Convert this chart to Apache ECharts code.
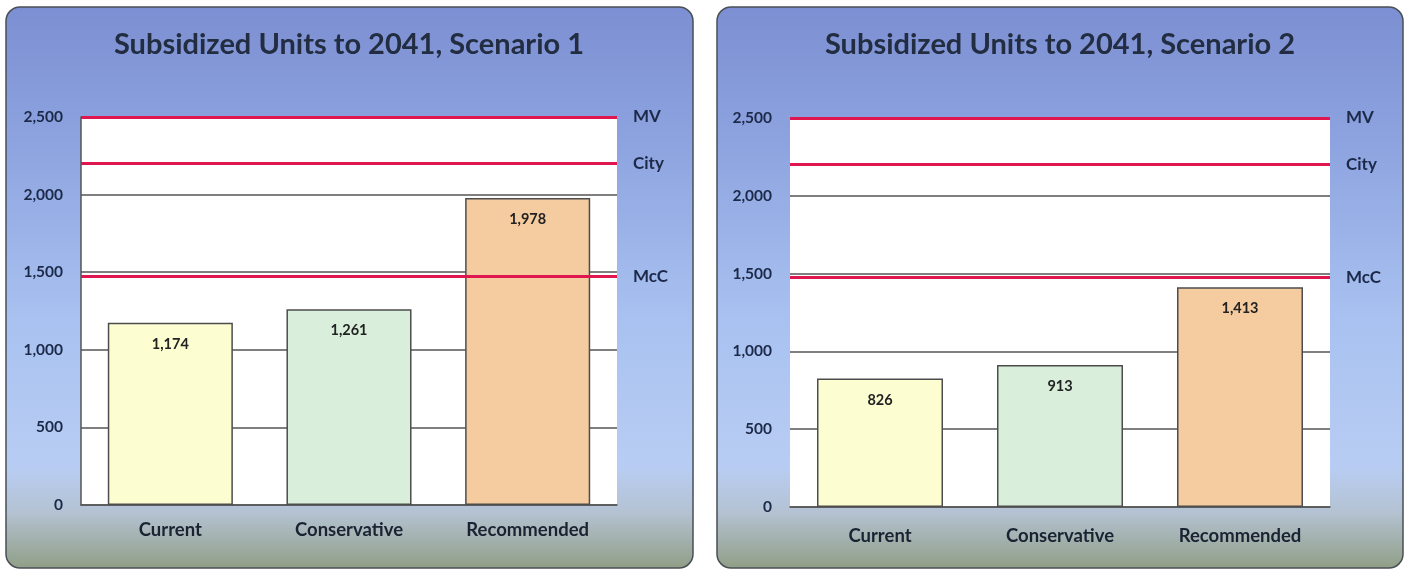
<!DOCTYPE html>
<html>
<head>
<meta charset="utf-8">
<script src="https://cdn.jsdelivr.net/npm/echarts@6/dist/echarts.min.js"></script>
<style>
  html, body { margin: 0; padding: 0; background: #fff; }
  #chart { width: 1408px; height: 571px; }
</style>
</head>
<body>
<div id="chart"></div>
<script>
// two panels, same categories
let categories = ["Current", "Conservative", "Recommended"];
let scenario1 = [1174, 1261, 1978];
let scenario2 = [826, 913, 1413];
let targetNames = ["MV", "City", "McC"];
let targetValues = [2500, 2200, 1475];
let barColors = ["#fdfdd2", "#d9efdc", "#f5cba0"];
let titles = ["Subsidized Units to 2041, Scenario 1", "Subsidized Units to 2041, Scenario 2"];

let font = "Lato, 'Open Sans', sans-serif";
let navy = "#1c2948";

let myChart = echarts.init(document.getElementById("chart"));

let panelFill = new echarts.graphic.LinearGradient(0, 0, 0, 1, [
  { offset: 0, color: "#7c8fd2" },
  { offset: 0.25, color: "#8ea4e0" },
  { offset: 0.55, color: "#a8c1f0" },
  { offset: 0.82, color: "#b8cdf3" },
  { offset: 0.9, color: "#b4c2d2" },
  { offset: 1, color: "#909e86" }
]);

function panel(x, w) {
  return {
    type: "rect",
    silent: true,
    z: -10,
    shape: { x: x, y: 7, width: w, height: 561, r: 14 },
    style: { fill: panelFill, stroke: "#4a4f55", lineWidth: 1.5 }
  };
}

function titleText(x, text) {
  return {
    type: "text",
    silent: true,
    x: x,
    y: 45,
    style: {
      text: text,
      font: "bold 29px " + font,
      fill: "#232d42",
      align: "center",
      verticalAlign: "middle"
    }
  };
}

let marks = targetNames.map(function (n, i) {
  return { name: n, yAxis: targetValues[i] };
});

function barSeries(idx, values) {
  return {
    type: "bar",
    xAxisIndex: idx,
    yAxisIndex: idx,
    barWidth: "70%",
    data: values.map(function (v, i) {
      return {
        value: v,
        itemStyle: { color: barColors[i], borderColor: "#4d4d4d", borderWidth: 1.5 }
      };
    }),
    label: {
      show: true,
      position: "insideTop",
      distance: 14,
      fontFamily: font,
      fontWeight: "bold",
      fontSize: 14.5,
      color: "#222",
      formatter: function (p) { return p.value.toLocaleString("en-US"); }
    },
    markLine: {
      silent: true,
      symbol: "none",
      lineStyle: { color: "#e0174f", width: 3, type: "solid" },
      label: {
        position: "end",
        distance: 16,
        formatter: "{b}",
        fontFamily: font,
        fontWeight: "bold",
        fontSize: 17,
        color: navy
      },
      data: marks
    }
  };
}

function yAxis(idx) {
  return {
    type: "value",
    gridIndex: idx,
    min: 0,
    max: 2500,
    interval: 500,
    axisLine: { show: idx === 0, lineStyle: { color: "#555", width: 1.5 } },
    axisTick: { show: false },
    splitLine: { lineStyle: { color: "#555", width: 1.5 } },
    axisLabel: {
      margin: 18,
      fontFamily: font,
      fontWeight: "bold",
      fontSize: 15.5,
      color: navy,
      formatter: function (v) { return v.toLocaleString("en-US"); }
    }
  };
}

function xAxis(idx, margin) {
  return {
    type: "category",
    gridIndex: idx,
    data: categories,
    axisLine: { lineStyle: { color: "#555", width: 1.5 } },
    axisTick: { show: false },
    axisLabel: {
      margin: margin,
      fontFamily: font,
      fontWeight: "bold",
      fontSize: 18.5,
      color: "#1b2333"
    }
  };
}

let option = {
  animation: false,
  backgroundColor: "#ffffff",
  graphic: [
    panel(6, 687),
    panel(717, 686),
    titleText(349, titles[0]),
    titleText(1060, titles[1])
  ],
  grid: [
    { left: 81, top: 117, width: 536, height: 388, show: true, backgroundColor: "#fff", borderWidth: 0 },
    { left: 790, top: 118, width: 540, height: 389, show: true, backgroundColor: "#fff", borderWidth: 0 }
  ],
  xAxis: [xAxis(0, 16), xAxis(1, 20)],
  yAxis: [yAxis(0), yAxis(1)],
  series: [barSeries(0, scenario1), barSeries(1, scenario2)]
};

myChart.setOption(option);
</script>
</body>
</html>
